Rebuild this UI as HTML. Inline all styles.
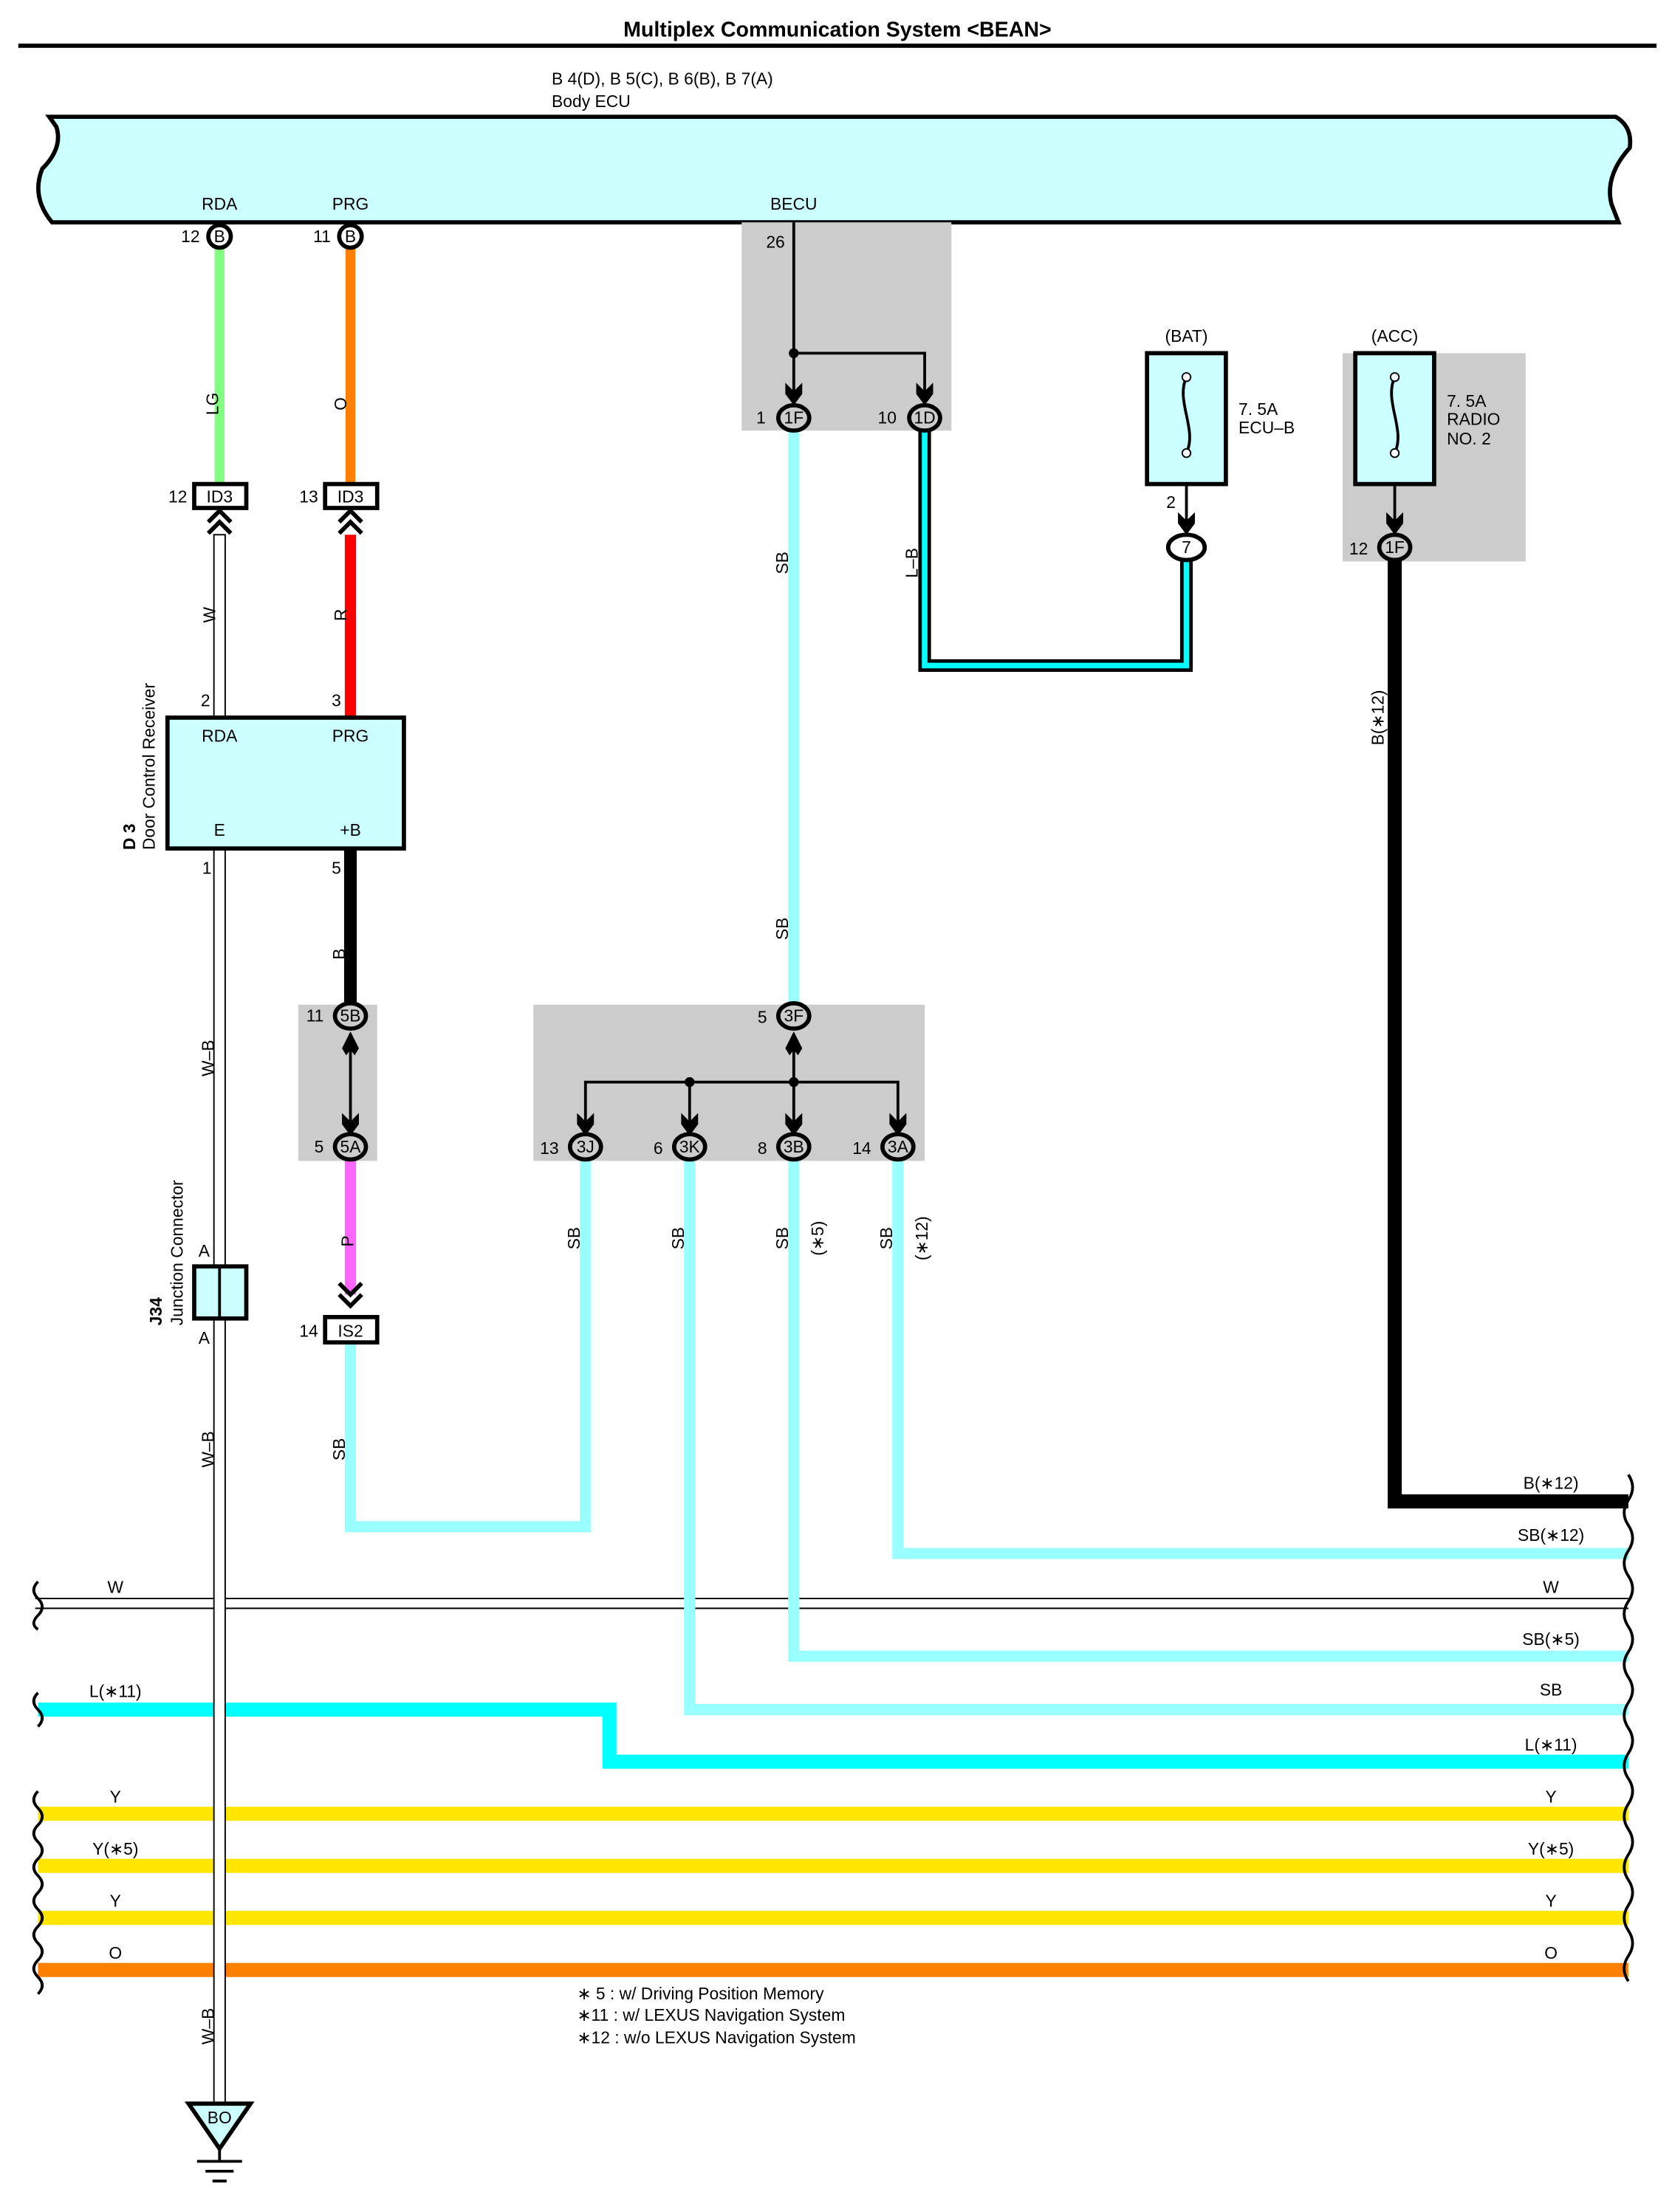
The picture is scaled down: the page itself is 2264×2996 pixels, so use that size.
<!DOCTYPE html>
<html><head><meta charset="utf-8"><style>
html,body{margin:0;padding:0;background:#fff}
svg{display:block}
text{font-family:"Liberation Sans",Arial,sans-serif;font-size:12px;fill:#000}
</style></head><body>
<svg width="2264" height="2996" viewBox="0 0 1188 1572" preserveAspectRatio="none" xmlns="http://www.w3.org/2000/svg">
<defs>
<g id="arr"><path d="M-6,-12 L0,-6 L6,-12 L6,-4 L0,4 L-6,-4 Z" fill="#000"/></g>
<g id="chev"><path d="M-8,-6 L0,2 L8,-6 M-8,2 L0,10 L8,2" fill="none" stroke="#000" stroke-width="3"/></g>
<g id="chevup"><path d="M-8,6 L0,-2 L8,6 M-8,14 L0,6 L8,14" fill="none" stroke="#000" stroke-width="3"/></g>
</defs>
<!-- title -->
<text x="595" y="26" text-anchor="middle" style="font-size:15px;font-weight:bold">Multiplex Communication System &lt;BEAN&gt;</text>
<rect x="13" y="31" width="1164" height="3" fill="#000"/>
<text x="392" y="60">B 4(D), B 5(C), B 6(B), B 7(A)</text>
<text x="392" y="76">Body ECU</text>
<!-- ECU -->
<path d="M35,83 L1148,83 Q1160,90 1158,105 Q1140,125 1145,145 L1150,158 L37,158 Q22,140 30,120 Q45,105 40,90 Z" fill="#ccffff" stroke="#000" stroke-width="3"/>
<text x="156" y="149" text-anchor="middle">RDA</text>
<text x="249" y="149" text-anchor="middle">PRG</text>
<text x="564" y="149" text-anchor="middle">BECU</text>

<!-- gray boxes -->
<rect x="527" y="158" width="149" height="148" fill="#cccccc"/>
<rect x="954" y="251" width="130" height="148" fill="#cccccc"/>
<rect x="212" y="714" width="56" height="111" fill="#cccccc"/>
<rect x="379" y="714" width="278" height="111" fill="#cccccc"/>

<!-- long horizontal lines -->
<line x1="25" y1="1136" x2="1157" y2="1136" stroke="#000" stroke-width="1"/>
<line x1="25" y1="1143" x2="1157" y2="1143" stroke="#000" stroke-width="1"/>
<path d="M27,1215 L433,1215 L433,1252 L1157,1252" fill="none" stroke="#00ffff" stroke-width="10"/>
<line x1="27" y1="1289" x2="1157" y2="1289" stroke="#ffe600" stroke-width="10"/>
<line x1="27" y1="1326" x2="1157" y2="1326" stroke="#ffe600" stroke-width="10"/>
<line x1="27" y1="1363" x2="1157" y2="1363" stroke="#ffe600" stroke-width="10"/>
<line x1="27" y1="1400" x2="1157" y2="1400" stroke="#ff8000" stroke-width="10"/>

<!-- SB wires -->
<g fill="none" stroke="#99ffff" stroke-width="8">
<path d="M249,954 L249,1085 L416,1085 L416,825"/>
<path d="M490,825 L490,1215 L1157,1215"/>
<path d="M564,825 L564,1177 L1157,1177"/>
<path d="M638,825 L638,1104 L1157,1104"/>
<path d="M564,306 L564,712"/>
</g>
<!-- L-B -->
<path d="M657,306 L657,473 L843,473 L843,398" fill="none" stroke="#000" stroke-width="9"/>
<path d="M657,306 L657,473 L843,473 L843,398" fill="none" stroke="#00ffff" stroke-width="4"/>
<!-- B black -->
<path d="M991,398 L991,1067 L1157,1067" fill="none" stroke="#000" stroke-width="10"/>

<!-- left column wires -->
<line x1="156" y1="175" x2="156" y2="345" stroke="#80ff80" stroke-width="7"/>
<line x1="249" y1="175" x2="249" y2="345" stroke="#ff8000" stroke-width="7"/>
<line x1="249" y1="380" x2="249" y2="510" stroke="#ff0000" stroke-width="8"/>
<rect x="152" y="380" width="8" height="130" fill="#fff" stroke="#000" stroke-width="1"/>
<line x1="249" y1="603" x2="249" y2="712" stroke="#000" stroke-width="9"/>
<line x1="249" y1="825" x2="249" y2="920" stroke="#ff66ff" stroke-width="8"/>
<!-- W-B wire on top of horizontals -->
<rect x="152" y="603" width="8" height="892" fill="#fff" stroke="#000" stroke-width="1"/>

<!-- ECU pins -->
<g stroke="#000" stroke-width="3" fill="#fff">
<circle cx="156" cy="168" r="8"/><circle cx="249" cy="168" r="8"/>
</g>
<text x="156" y="172" text-anchor="middle">B</text><text x="249" y="172" text-anchor="middle">B</text>
<text x="142" y="172" text-anchor="end">12</text><text x="235" y="172" text-anchor="end">11</text>
<text x="150" y="292" transform="rotate(-90 150 287)" text-anchor="middle">LG</text>
<text x="241" y="292" transform="rotate(-90 241 287)" text-anchor="middle">O</text>
<!-- ID3 -->
<rect x="138" y="344" width="37" height="17" fill="#fff" stroke="#000" stroke-width="3"/>
<rect x="231" y="344" width="37" height="17" fill="#fff" stroke="#000" stroke-width="3"/>
<text x="156" y="357" text-anchor="middle">ID3</text><text x="249" y="357" text-anchor="middle">ID3</text>
<text x="133" y="357" text-anchor="end">12</text><text x="226" y="357" text-anchor="end">13</text>
<use href="#chevup" x="156" y="365"/><use href="#chevup" x="249" y="365"/>
<text x="148" y="442" transform="rotate(-90 148 437)" text-anchor="middle">W</text>
<text x="241" y="442" transform="rotate(-90 241 437)" text-anchor="middle">R</text>
<text x="146" y="502" text-anchor="middle">2</text><text x="239" y="502" text-anchor="middle">3</text>
<!-- D3 -->
<rect x="119" y="510" width="168" height="93" fill="#ccffff" stroke="#000" stroke-width="3"/>
<text x="156" y="527" text-anchor="middle">RDA</text><text x="249" y="527" text-anchor="middle">PRG</text>
<text x="156" y="594" text-anchor="middle">E</text><text x="249" y="594" text-anchor="middle">+B</text>
<text x="96" y="604" transform="rotate(-90 96 604)" style="font-weight:bold">D 3</text>
<text x="110" y="604" transform="rotate(-90 110 604)">Door Control Receiver</text>
<text x="147" y="621" text-anchor="middle">1</text><text x="239" y="621" text-anchor="middle">5</text>
<text x="241" y="682" transform="rotate(-90 241 678)" text-anchor="middle">B</text>
<text x="148" y="756" transform="rotate(-90 148 752)" text-anchor="middle">W–B</text>
<text x="148" y="1034" transform="rotate(-90 148 1030)" text-anchor="middle">W–B</text>
<text x="148" y="1444" transform="rotate(-90 148 1440)" text-anchor="middle">W–B</text>
<!-- 5B/5A -->
<line x1="249" y1="735" x2="249" y2="805" stroke="#000" stroke-width="2"/>
<path d="M243,745 L249,733 L255,745 L252,750 L249,746 L246,750Z" fill="#000"/>
<use href="#arr" x="249" y="803"/>
<text x="241" y="892" transform="rotate(-90 241 882)" text-anchor="middle">P</text>
<use href="#chev" x="249" y="918"/>
<rect x="231" y="936" width="37" height="18" fill="#fff" stroke="#000" stroke-width="3"/>
<text x="249" y="950" text-anchor="middle">IS2</text><text x="226" y="950" text-anchor="end">14</text>
<text x="241" y="1034" transform="rotate(-90 241 1030)" text-anchor="middle">SB</text>
<!-- J34 -->
<rect x="138" y="900" width="37" height="37" fill="#ccffff" stroke="#000" stroke-width="3"/>
<line x1="156" y1="900" x2="156" y2="937" stroke="#000" stroke-width="2"/>
<text x="145" y="893" text-anchor="middle">A</text><text x="145" y="955" text-anchor="middle">A</text>
<text x="115" y="942" transform="rotate(-90 115 942)" style="font-weight:bold">J34</text>
<text x="130" y="942" transform="rotate(-90 130 942)">Junction Connector</text>

<!-- BECU -->
<path d="M564,158 L564,285 M564,251 L657,251 L657,285" fill="none" stroke="#000" stroke-width="2"/>
<circle cx="564" cy="251" r="3.5" fill="#000"/>
<use href="#arr" x="564" y="284"/><use href="#arr" x="657" y="284"/>
<text x="551" y="176" text-anchor="middle">26</text>
<text x="544" y="301" text-anchor="end">1</text><text x="637" y="301" text-anchor="end">10</text>
<text x="556" y="404" transform="rotate(-90 556 400)" text-anchor="middle">SB</text>
<text x="556" y="664" transform="rotate(-90 556 660)" text-anchor="middle">SB</text>
<text x="648" y="404" transform="rotate(-90 648 400)" text-anchor="middle">L–B</text>

<!-- BAT fuse -->
<rect x="815" y="251" width="56" height="93" fill="#ccffff" stroke="#000" stroke-width="3"/>
<path d="M843,268 C835,285 851,305 843,322" fill="none" stroke="#000" stroke-width="2"/>
<circle cx="843" cy="268" r="3" fill="#fff" stroke="#000"/><circle cx="843" cy="322" r="3" fill="#fff" stroke="#000"/>
<line x1="843" y1="344" x2="843" y2="376" stroke="#000" stroke-width="2"/>
<use href="#arr" x="843" y="376"/>
<text x="843" y="243" text-anchor="middle">(BAT)</text>
<text x="880" y="295">7. 5A</text><text x="880" y="308">ECU–B</text>
<text x="832" y="361" text-anchor="middle">2</text>
<!-- ACC fuse -->
<rect x="963" y="251" width="56" height="93" fill="#ccffff" stroke="#000" stroke-width="3"/>
<path d="M991,268 C983,285 999,305 991,322" fill="none" stroke="#000" stroke-width="2"/>
<circle cx="991" cy="268" r="3" fill="#fff" stroke="#000"/><circle cx="991" cy="322" r="3" fill="#fff" stroke="#000"/>
<line x1="991" y1="344" x2="991" y2="376" stroke="#000" stroke-width="2"/>
<use href="#arr" x="991" y="376"/>
<text x="991" y="243" text-anchor="middle">(ACC)</text>
<text x="1028" y="289">7. 5A</text><text x="1028" y="302">RADIO</text><text x="1028" y="316">NO. 2</text>
<text x="972" y="394" text-anchor="end">12</text>
<text x="983" y="510" transform="rotate(-90 983 510)" text-anchor="middle">B(∗12)</text>

<!-- 3F junction -->
<path d="M564,735 L564,769 M416,803 L416,769 L638,769 L638,803 M490,769 L490,803 M564,769 L564,803" fill="none" stroke="#000" stroke-width="2"/>
<path d="M558,745 L564,733 L570,745 L567,750 L564,746 L561,750Z" fill="#000"/>
<circle cx="490" cy="769" r="3.5" fill="#000"/><circle cx="564" cy="769" r="3.5" fill="#000"/>
<use href="#arr" x="416" y="803"/><use href="#arr" x="490" y="803"/><use href="#arr" x="564" y="803"/><use href="#arr" x="638" y="803"/>
<text x="545" y="727" text-anchor="end">5</text>
<text x="397" y="820" text-anchor="end">13</text><text x="471" y="820" text-anchor="end">6</text>
<text x="545" y="820" text-anchor="end">8</text><text x="619" y="820" text-anchor="end">14</text>

<!-- connector ovals -->
<g stroke="#000" stroke-width="3" fill="#cccccc">
<ellipse cx="564" cy="297" rx="11" ry="9"/><ellipse cx="657" cy="297" rx="11" ry="9"/>
<ellipse cx="249" cy="722" rx="11" ry="9"/><ellipse cx="249" cy="815" rx="11" ry="9"/>
<ellipse cx="564" cy="722" rx="11" ry="9"/>
<ellipse cx="416" cy="815" rx="11" ry="9"/><ellipse cx="490" cy="815" rx="11" ry="9"/>
<ellipse cx="564" cy="815" rx="11" ry="9"/><ellipse cx="638" cy="815" rx="11" ry="9"/>
<ellipse cx="991" cy="389" rx="11" ry="9"/>
<ellipse cx="843" cy="389" rx="13" ry="9" fill="#fff"/>
</g>
<g text-anchor="middle">
<text x="564" y="301">1F</text><text x="657" y="301">1D</text>
<text x="249" y="726">5B</text><text x="249" y="819">5A</text>
<text x="564" y="726">3F</text>
<text x="416" y="819">3J</text><text x="490" y="819">3K</text><text x="564" y="819">3B</text><text x="638" y="819">3A</text>
<text x="991" y="393">1F</text><text x="843" y="393">7</text>
</g>
<text x="230" y="726" text-anchor="end">11</text><text x="230" y="819" text-anchor="end">5</text>

<!-- rotated SB labels -->
<text x="408" y="884" transform="rotate(-90 408 880)" text-anchor="middle">SB</text>
<text x="482" y="884" transform="rotate(-90 482 880)" text-anchor="middle">SB</text>
<text x="556" y="884" transform="rotate(-90 556 880)" text-anchor="middle">SB</text>
<text x="581" y="884" transform="rotate(-90 581 880)" text-anchor="middle">(∗5)</text>
<text x="630" y="884" transform="rotate(-90 630 880)" text-anchor="middle">SB</text>
<text x="655" y="884" transform="rotate(-90 655 880)" text-anchor="middle">(∗12)</text>

<!-- right labels -->
<g text-anchor="middle">
<text x="1102" y="1058">B(∗12)</text><text x="1102" y="1095">SB(∗12)</text><text x="1102" y="1132">W</text>
<text x="1102" y="1169">SB(∗5)</text><text x="1102" y="1205">SB</text><text x="1102" y="1244">L(∗11)</text>
<text x="1102" y="1281">Y</text><text x="1102" y="1318">Y(∗5)</text><text x="1102" y="1355">Y</text><text x="1102" y="1392">O</text>
<text x="82" y="1132">W</text><text x="82" y="1206">L(∗11)</text><text x="82" y="1281">Y</text>
<text x="82" y="1318">Y(∗5)</text><text x="82" y="1355">Y</text><text x="82" y="1392">O</text>
</g>
<!-- break marks -->
<path d="M1157,1048 q6,9 0,18 q-6,9 0,18 q6,9 0,18 q-6,9 0,18 q6,9 0,18 q-6,9 0,18 q6,9 0,18 q-6,9 0,18 q6,9 0,18 q-6,9 0,18 q6,9 0,18 q-6,9 0,18 q6,9 0,18 q-6,9 0,18 q6,9 0,18 q-6,9 0,18 q6,9 0,18 q-6,9 0,18 q6,9 0,18 q-6,9 0,18" fill="none" stroke="#000" stroke-width="2"/>
<g fill="none" stroke="#000" stroke-width="2">
<path d="M27,1124 q-6,6 0,12 q6,6 0,12 q-6,6 0,10"/>
<path d="M27,1203 q-6,6 0,12 q6,6 0,12"/>
<path d="M27,1273 q-6,6 0,12 q6,6 0,12 q-6,6 0,12 q6,6 0,12 q-6,6 0,12 q6,6 0,12 q-6,6 0,12 q6,6 0,12 q-6,6 0,12 q6,6 0,12 q-6,6 0,12 q6,6 0,12"/>
</g>
<!-- notes -->
<text x="410" y="1421">∗ 5 : w/ Driving Position Memory</text>
<text x="410" y="1436">∗11 : w/ LEXUS Navigation System</text>
<text x="410" y="1452">∗12 : w/o LEXUS Navigation System</text>
<!-- ground -->
<path d="M134,1495 L178,1495 L156,1527 Z" fill="#ccffff" stroke="#000" stroke-width="3"/>
<text x="156" y="1509" text-anchor="middle">BO</text>
<line x1="156" y1="1527" x2="156" y2="1536" stroke="#000" stroke-width="2"/>
<line x1="140" y1="1536" x2="172" y2="1536" stroke="#000" stroke-width="2"/>
<line x1="146" y1="1543" x2="166" y2="1543" stroke="#000" stroke-width="2"/>
<line x1="151" y1="1550" x2="161" y2="1550" stroke="#000" stroke-width="2"/>
</svg>
</body></html>
